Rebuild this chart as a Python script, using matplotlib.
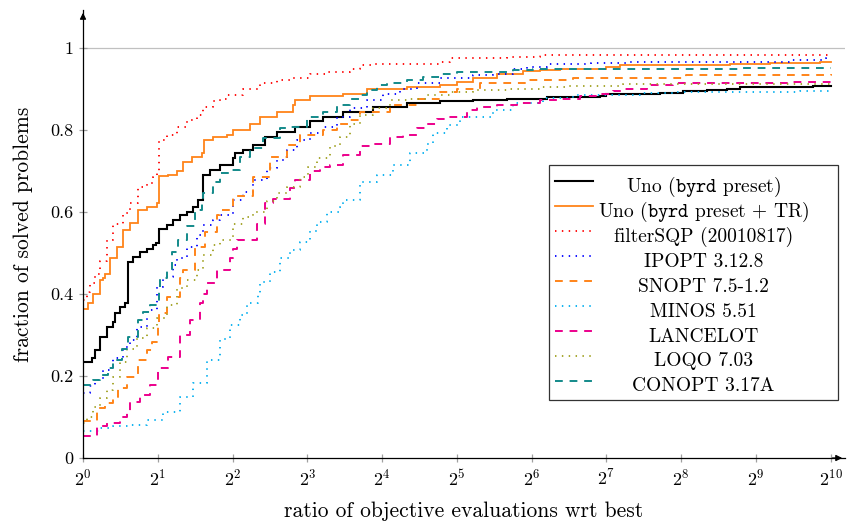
import numpy as np
import matplotlib
matplotlib.use("Agg")
import matplotlib.pyplot as plt
from matplotlib.transforms import IdentityTransform

plt.rcParams['font.family'] = 'serif'
plt.rcParams['font.serif'] = ['cmr10']
plt.rcParams['mathtext.fontset'] = 'cm'
plt.rcParams['axes.formatter.use_mathtext'] = True

# log2(tau) breakpoints and fraction of solved problems
uno_x = [0, 0.12, 0.16, 0.227, 0.317, 0.40, 0.428, 0.495, 0.56, 0.60, 0.672, 0.762, 0.852, 0.94, 0.98,
         1.01, 1.119, 1.207, 1.297, 1.386, 1.475, 1.541, 1.60, 1.698, 1.832, 2.009, 2.032, 2.143, 2.277,
         2.433, 2.59, 2.834, 3.035, 3.209, 3.476, 3.57, 3.877, 4.328, 4.773, 5.214, 5.664, 6.199, 6.912,
         7.0, 7.714, 8.02, 8.338, 8.606, 8.783, 9.759, 10.0]
uno_y = [0.235, 0.245, 0.263, 0.296, 0.32, 0.333, 0.353, 0.369, 0.378, 0.479, 0.491, 0.503, 0.511, 0.52, 0.524,
         0.558, 0.568, 0.58, 0.593, 0.601, 0.613, 0.629, 0.69, 0.702, 0.715, 0.731, 0.743, 0.751, 0.763,
         0.784, 0.796, 0.808, 0.821, 0.833, 0.843, 0.845, 0.857, 0.866, 0.87, 0.873, 0.877, 0.881, 0.883,
         0.888, 0.891, 0.896, 0.899, 0.901, 0.904, 0.907, 0.907]

unotr_x = [0, 0.07, 0.138, 0.227, 0.271, 0.294, 0.361, 0.451, 0.539, 0.628, 0.739, 0.852, 0.985, 1.01,
           1.14, 1.253, 1.341, 1.453, 1.587, 1.62, 1.742, 1.921, 2.009, 2.233, 2.366, 2.59, 2.811, 2.834,
           3.035, 3.48, 3.793, 4.328, 4.773, 4.996, 5.214, 5.531, 5.882, 6.11, 6.377, 7.0, 7.179, 7.58,
           8.65, 9.184, 9.853, 10.0]
unotr_y = [0.363, 0.377, 0.40, 0.434, 0.438, 0.45, 0.487, 0.516, 0.556, 0.574, 0.605, 0.613, 0.623, 0.688,
           0.69, 0.699, 0.723, 0.735, 0.743, 0.776, 0.782, 0.788, 0.80, 0.816, 0.831, 0.845, 0.861, 0.873,
           0.883, 0.889, 0.901, 0.905, 0.91, 0.918, 0.926, 0.938, 0.944, 0.946, 0.95, 0.955, 0.958, 0.96,
           0.962, 0.963, 0.966, 0.966]

filter_x = [0, 0.049, 0.094, 0.16, 0.227, 0.317, 0.405, 0.539, 0.628, 0.739, 0.852, 0.94, 0.985, 1.01,
            1.119, 1.253, 1.386, 1.52, 1.608, 1.742, 1.832, 1.921, 2.143, 2.366, 2.59, 2.811, 3.035, 3.258,
            3.57, 3.703, 3.877, 4.773, 4.906, 5.664, 6.11, 10.0]
filter_y = [0.385, 0.406, 0.426, 0.45, 0.481, 0.532, 0.572, 0.597, 0.621, 0.662, 0.67, 0.686, 0.699, 0.776,
            0.788, 0.808, 0.824, 0.837, 0.857, 0.87, 0.877, 0.885, 0.901, 0.914, 0.922, 0.926, 0.938, 0.942,
            0.948, 0.959, 0.962, 0.966, 0.975, 0.979, 0.983, 0.983]

ipopt_x = [0, 0.094, 0.16, 0.271, 0.405, 0.539, 0.628, 0.718, 0.852, 0.985, 1.074, 1.207, 1.253, 1.386,
           1.52, 1.608, 1.742, 1.832, 2.009, 2.143, 2.277, 2.456, 2.59, 2.723, 2.857, 3.035, 3.212, 3.392,
           3.57, 3.793, 4.015, 4.238, 4.461, 4.773, 5.214, 5.485, 5.753, 5.932, 6.199, 6.8, 7.313, 9.452,
           9.942, 10.0]
ipopt_y = [0.159, 0.175, 0.19, 0.215, 0.243, 0.272, 0.288, 0.32, 0.361, 0.418, 0.442, 0.471, 0.487, 0.516,
           0.544, 0.568, 0.58, 0.592, 0.629, 0.65, 0.678, 0.707, 0.727, 0.751, 0.776, 0.792, 0.808, 0.833,
           0.853, 0.873, 0.889, 0.901, 0.915, 0.926, 0.934, 0.938, 0.95, 0.955, 0.961, 0.964, 0.966, 0.971,
           0.975, 0.975]

snopt_x = [0, 0.183, 0.294, 0.405, 0.472, 0.584, 0.739, 0.852, 0.918, 1.007, 1.016, 1.119, 1.297, 1.341,
           1.497, 1.631, 1.787, 1.832, 2.009, 2.277, 2.5, 2.723, 2.901, 3.209, 3.392, 3.57, 3.703, 4.104,
           4.461, 4.773, 4.996, 5.307, 5.664, 5.932, 6.551, 8.07, 10.0]
snopt_y = [0.09, 0.121, 0.135, 0.15, 0.17, 0.198, 0.239, 0.263, 0.284, 0.32, 0.353, 0.393, 0.438, 0.459,
           0.516, 0.552, 0.593, 0.605, 0.638, 0.686, 0.735, 0.763, 0.788, 0.80, 0.816, 0.824, 0.845, 0.861,
           0.877, 0.894, 0.901, 0.914, 0.915, 0.922, 0.926, 0.934, 0.936]

minos_x = [0, 0.227, 0.405, 0.628, 0.852, 1.074, 1.297, 1.475, 1.654, 1.832, 1.965, 2.099, 2.189, 2.344,
           2.366, 2.5, 2.634, 2.767, 2.901, 3.035, 3.124, 3.258, 3.436, 3.48, 3.703, 3.926, 4.148, 4.372,
           4.595, 4.683, 4.862, 5.04, 5.485, 5.753, 6.154, 6.551, 7.447, 7.888, 9.586, 10.0]
minos_y = [0.067, 0.072, 0.077, 0.08, 0.093, 0.113, 0.15, 0.182, 0.239, 0.29, 0.324, 0.349, 0.377, 0.398,
           0.43, 0.454, 0.487, 0.507, 0.528, 0.555, 0.576, 0.601, 0.613, 0.629, 0.674, 0.69, 0.715, 0.743,
           0.767, 0.792, 0.812, 0.833, 0.85, 0.866, 0.878, 0.885, 0.891, 0.894, 0.896, 0.896]

lancelot_x = [0, 0.183, 0.317, 0.495, 0.584, 0.628, 0.762, 0.896, 1.007, 1.14, 1.297, 1.43, 1.564, 1.608,
              1.654, 1.787, 1.965, 2.009, 2.055, 2.322, 2.433, 2.544, 2.767, 2.834, 3.035, 3.168, 3.302,
              3.48, 3.703, 3.877, 4.104, 4.282, 4.461, 4.595, 4.729, 4.862, 5.13, 5.263, 5.531, 5.798, 6.11,
              6.333, 6.644, 6.912, 7.09, 7.223, 7.536, 7.892, 8.65, 9.496, 10.0]
lancelot_y = [0.054, 0.077, 0.086, 0.101, 0.113, 0.137, 0.154, 0.178, 0.219, 0.247, 0.30, 0.337, 0.377, 0.40,
              0.426, 0.459, 0.487, 0.511, 0.532, 0.572, 0.621, 0.631, 0.658, 0.678, 0.699, 0.711, 0.715,
              0.739, 0.76, 0.767, 0.784, 0.788, 0.804, 0.816, 0.828, 0.833, 0.85, 0.857, 0.861, 0.866, 0.873,
              0.877, 0.883, 0.889, 0.896, 0.901, 0.91, 0.914, 0.915, 0.918, 0.918]

loqo_x = [0, 0.049, 0.138, 0.227, 0.317, 0.405, 0.495, 0.584, 0.718, 0.852, 0.985, 1.119, 1.253, 1.386,
          1.52, 1.608, 1.742, 1.832, 2.009, 2.143, 2.277, 2.456, 2.59, 2.723, 2.901, 3.012, 3.124, 3.302,
          3.436, 3.57, 3.703, 3.877, 4.104, 4.328, 4.595, 4.906, 5.214, 5.664, 6.11, 6.5, 7.223, 10.0]
loqo_y = [0.085, 0.101, 0.125, 0.146, 0.166, 0.198, 0.235, 0.267, 0.292, 0.316, 0.341, 0.373, 0.414, 0.434,
          0.459, 0.495, 0.52, 0.532, 0.572, 0.589, 0.601, 0.626, 0.646, 0.662, 0.686, 0.711, 0.731, 0.76,
          0.784, 0.816, 0.837, 0.853, 0.873, 0.877, 0.885, 0.894, 0.898, 0.901, 0.905, 0.907, 0.912, 0.913]

conopt_x = [0, 0.138, 0.227, 0.338, 0.405, 0.517, 0.606, 0.739, 0.806, 0.896, 1.016, 1.029, 1.119, 1.186,
            1.274, 1.386, 1.497, 1.587, 1.608, 1.742, 1.832, 1.965, 2.099, 2.233, 2.41, 2.634, 2.767, 2.99,
            3.209, 3.392, 3.57, 3.703, 3.793, 3.926, 4.06, 4.328, 4.55, 4.773, 4.996, 5.753, 6.02, 8.783, 10.0]
conopt_y = [0.178, 0.19, 0.202, 0.219, 0.239, 0.267, 0.296, 0.337, 0.357, 0.373, 0.414, 0.438, 0.459, 0.503,
            0.532, 0.565, 0.605, 0.621, 0.646, 0.674, 0.695, 0.702, 0.735, 0.756, 0.78, 0.804, 0.808, 0.833,
            0.845, 0.861, 0.877, 0.885, 0.898, 0.91, 0.915, 0.922, 0.93, 0.938, 0.942, 0.946, 0.95, 0.952, 0.952]

labels = [r'Uno ($\mathtt{byrd}$ preset)', r'Uno ($\mathtt{byrd}$ preset + TR)', 'filterSQP (20010817)',
          'IPOPT 3.12.8', 'SNOPT 7.5-1.2', 'MINOS 5.51', 'LANCELOT', 'LOQO 7.03', 'CONOPT 3.17A']
yticks = [0, 0.2, 0.4, 0.6, 0.8, 1]
ytick_labels = ['0', '0.2', '0.4', '0.6', '0.8', '1']

series = [(uno_x, uno_y), (unotr_x, unotr_y), (filter_x, filter_y), (ipopt_x, ipopt_y),
          (snopt_x, snopt_y), (minos_x, minos_y), (lancelot_x, lancelot_y), (loqo_x, loqo_y),
          (conopt_x, conopt_y)]
dots = (0, (0.8, 3.0))
dashes = (0, (4.0, 3.5))
styles = [
    dict(color='black', lw=1.5, ls='-'),
    dict(color='#ff8419', lw=1.3, ls='-'),
    dict(color='#ff0000', lw=1.3, ls=dots),
    dict(color='#0000ff', lw=1.3, ls=dots),
    dict(color='#ff8419', lw=1.4, ls=dashes),
    dict(color='#00aeef', lw=1.3, ls=dots),
    dict(color='#ec008c', lw=1.4, ls=dashes),
    dict(color='#a0a020', lw=1.3, ls=dots),
    dict(color='#138a8a', lw=1.4, ls=dashes),
]

fig = plt.figure(figsize=(8.51, 5.22), dpi=100)
ax = fig.add_axes([83 / 851, 64 / 522, 762 / 851, 448 / 522])

ax.axhline(1, color='#c0c0c0', lw=0.9, zorder=0)

handles = []
for (xs, ys), st, lab in zip(series, styles, labels):
    h, = ax.plot(2.0 ** np.array(xs), ys, drawstyle='steps-post', label=lab,
                 dash_capstyle='butt', solid_joinstyle='miter', **st)
    handles.append(h)

ax.set_xscale('log', base=2)
ax.set_xlim(1, 2 ** 10.19)
ax.set_ylim(0, 1.093)
ax.set_xticks(2.0 ** np.arange(11))
ax.xaxis.set_minor_locator(matplotlib.ticker.NullLocator())
ax.set_yticks(yticks)
ax.set_yticklabels(ytick_labels)

for s in ['top', 'right']:
    ax.spines[s].set_visible(False)
for s in ['left', 'bottom']:
    ax.spines[s].set_linewidth(0.9)
ax.tick_params(direction='inout', length=6, width=0.9, color='#a0a0a0',
               labelsize=13, labelcolor='black', pad=4)

ax.annotate('', xy=(1.0, 0), xytext=(0.98, 0), xycoords='axes fraction',
            arrowprops=dict(arrowstyle='-|>', color='black', lw=0.9, mutation_scale=9))
ax.annotate('', xy=(0, 1.0), xytext=(0, 0.98), xycoords='axes fraction',
            arrowprops=dict(arrowstyle='-|>', color='black', lw=0.9, mutation_scale=9))

ax.set_xlabel('ratio of objective evaluations wrt best', fontsize=15.5, labelpad=9)
ax.set_ylabel('fraction of solved problems', fontsize=15.5, labelpad=12)

# legend rows sized by a hidden placeholder, real labels drawn centred on top
leg_fs = 14
placeholder = labels[1] + 'nn'
leg = ax.legend(handles=handles, labels=[placeholder] * len(labels), loc='lower right',
                bbox_to_anchor=(0.991, 0.129), fontsize=leg_fs, frameon=True, fancybox=False,
                edgecolor='black', handlelength=1.96, handletextpad=0.26, labelspacing=0.04,
                borderpad=0.3, borderaxespad=0)
leg.get_frame().set_linewidth(0.9)

fig.canvas.draw()
r = fig.canvas.get_renderer()
tmp = fig.text(0, 0, labels[1], fontsize=leg_fs)
w_real = tmp.get_window_extent(r).width
tmp.remove()
for t, lab in zip(leg.get_texts(), labels):
    bb = t.get_window_extent(r)
    base = t.get_transform().transform(t.get_position())
    t.set_alpha(0)
    fig.text(bb.x0 + w_real / 2, base[1] - 4, lab, transform=IdentityTransform(),
             ha='center', va='baseline', fontsize=leg_fs, zorder=10)

fig.savefig('out.png', dpi=100)
